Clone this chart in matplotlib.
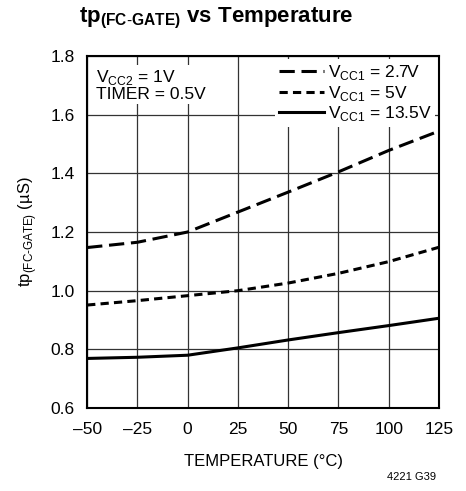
import matplotlib
matplotlib.use('Agg')
import matplotlib.pyplot as plt

plt.rcParams['font.family'] = ['Liberation Sans', 'DejaVu Sans']
plt.rcParams['mathtext.fontset'] = 'custom'
plt.rcParams['mathtext.rm'] = 'Liberation Sans'
plt.rcParams['mathtext.bf'] = 'Liberation Sans:bold'

# dados
temperatura = [-50, -25, 0, 25, 50, 75, 100, 125]
tp_27 = [1.147, 1.165, 1.200, 1.268, 1.336, 1.405, 1.478, 1.544]
tp_5 = [0.951, 0.966, 0.983, 1.000, 1.026, 1.059, 1.099, 1.148]
tp_135 = [0.769, 0.773, 0.780, 0.805, 0.832, 0.857, 0.881, 0.906]

x_ticks = [-50, -25, 0, 25, 50, 75, 100, 125]
x_labels = ['–50', '–25', '0', '25', '50', '75', '100', '125']
y_ticks = [0.6, 0.8, 1.0, 1.2, 1.4, 1.6, 1.8]

fig = plt.figure(figsize=(4.66, 4.91), dpi=100)
ax = fig.add_axes([0.187, 0.169, 0.755, 0.717])

ax.plot(temperatura, tp_27, color='black', lw=2.2, dashes=(5, 2.2), label=r'V$_{\rm CC1}$ = 2.7V')
ax.plot(temperatura, tp_5, color='black', lw=2.2, dashes=(2.7, 1.7), label=r'V$_{\rm CC1}$ = 5V')
ax.plot(temperatura, tp_135, color='black', lw=2.2, label=r'V$_{\rm CC1}$ = 13.5V')

ax.set_xlim(-50, 125)
ax.set_ylim(0.6, 1.8)
ax.set_xticks(x_ticks)
ax.set_xticklabels(x_labels)
ax.set_yticks(y_ticks)
ax.set_yticklabels([f'{v:.1f}' for v in y_ticks])
ax.tick_params(length=0, labelsize=12.5)
ax.tick_params(axis='x', pad=10)
ax.tick_params(axis='y', pad=9)
ax.grid(True, color='#333333', lw=0.9)
for s in ax.spines.values():
    s.set_linewidth(1.5)

ax.set_xlabel('TEMPERATURE (°C)', fontsize=12, labelpad=12)
ax.set_ylabel(r'tp$_{\rm (FC\text{-}GATE)}$ (µS)', fontsize=12, labelpad=8)

leg = ax.legend(loc='upper right', fontsize=12.5, frameon=True, handlelength=2.6,
                handletextpad=0.25, labelspacing=0.1, borderpad=0.2, borderaxespad=0.2,
                fancybox=False)
leg.get_frame().set_edgecolor('none')
leg.get_frame().set_facecolor('white')
leg.get_frame().set_alpha(1)

ax.text(0.025, 0.965, 'V$_{\\rm CC2}$ = 1V\nTIMER = 0.5V', transform=ax.transAxes,
        fontsize=12.5, va='top', ha='left', linespacing=1.0,
        bbox=dict(facecolor='white', edgecolor='none', pad=1))

fig.text(0.465, 0.963, r'tp$_{\bf (FC\text{-}GATE)}$ vs Temperature', fontsize=16,
         fontweight='bold', ha='center', va='center')
fig.text(0.935, 0.028, '4221 G39', fontsize=8, ha='right', va='center')

fig.savefig('out.png', dpi=100)
